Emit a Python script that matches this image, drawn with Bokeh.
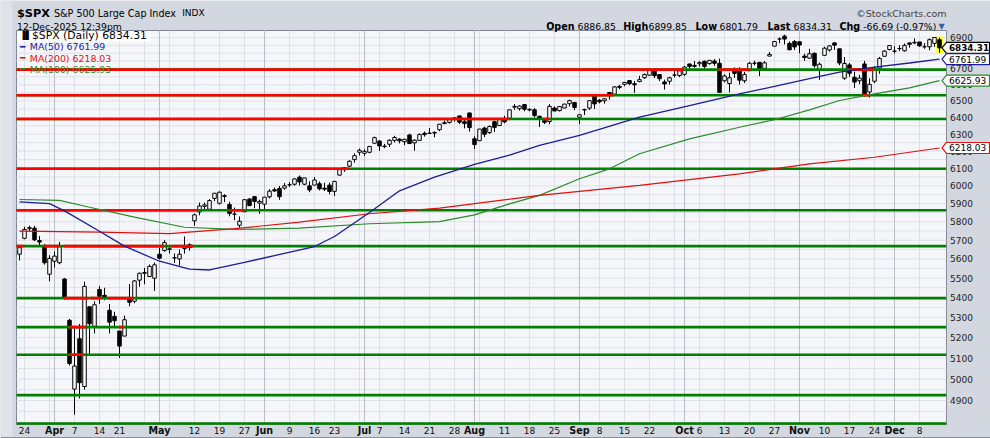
import math
import pandas as pd
from bokeh.plotting import figure
from bokeh.models import Range1d, Label
from bokeh.core.properties import value
from bokeh.embed import file_html
from bokeh.resources import INLINE

# ---------------- data ----------------
holidays = ["2025-04-18", "2025-05-26", "2025-06-19", "2025-07-04", "2025-09-01", "2025-11-27"]
dates = [d for d in pd.bdate_range("2025-03-21", "2025-12-12") if d.strftime("%Y-%m-%d") not in holidays]

opens = [5625, 5710, 5762, 5765, 5698, 5668, 5520, 5588, 5580, 5495,
         5285, 4953, 5194, 4965, 5353, 5255, 5441, 5411, 5335, 5305,
         5232, 5207, 5395, 5381, 5489, 5525, 5508, 5499, 5625, 5645,
         5654, 5605, 5600, 5655, 5676, 5805, 5854, 5885, 5869, 5929,
         5902, 5944, 5895, 5841, 5781, 5855, 5926, 5939, 5903, 5897,
         5938, 5978, 5985, 5987, 6005, 6009, 6049, 6009, 6000, 6004,
         6012, 5987, 6004, 5969, 6061, 6104, 6112, 6150, 6193, 6187,
         6193, 6246, 6259, 6229, 6240, 6263, 6270, 6255, 6295, 6248,
         6263, 6305, 6304, 6306, 6326, 6368, 6370, 6397, 6409, 6374,
         6427, 6272, 6261, 6336, 6309, 6374, 6351, 6389, 6395, 6462,
         6453, 6478, 6445, 6446, 6407, 6383, 6375, 6457, 6441, 6457,
         6483, 6491, 6401, 6445, 6456, 6530, 6505, 6501, 6552, 6542,
         6590, 6603, 6626, 6607, 6620, 6644, 6660, 6695, 6664, 6618,
         6622, 6661, 6658, 6665, 6731, 6722, 6732, 6748, 6733, 6750,
         6735, 6625, 6608, 6690, 6689, 6625, 6688, 6736, 6741, 6703,
         6781, 6845, 6891, 6910, 6863, 6875, 6873, 6781, 6768, 6799,
         6696, 6786, 6820, 6866, 6828, 6641, 6725, 6647, 6625, 6731,
         6555, 6622, 6705, 6780, 6823, 6812, 6830, 6815, 6866, 6866,
         6872, 6841, 6841, 6863, 6887]
highs = [5665, 5772, 5778, 5778, 5722, 5680, 5620, 5640, 5690, 5500,
         5292, 5246, 5267, 5481, 5353, 5381, 5459, 5450, 5367, 5328,
         5232, 5309, 5469, 5489, 5528, 5553, 5571, 5581, 5658, 5700,
         5669, 5629, 5650, 5720, 5683, 5845, 5906, 5906, 5925, 5958,
         5968, 5953, 5910, 5878, 5829, 5924, 5930, 5943, 5922, 5937,
         5981, 5990, 5999, 6016, 6021, 6043, 6059, 6045, 6026, 6050,
         6024, 6018, 6018, 6028, 6101, 6108, 6146, 6187, 6215, 6211,
         6228, 6285, 6263, 6242, 6269, 6290, 6275, 6272, 6302, 6269,
         6304, 6315, 6336, 6316, 6360, 6381, 6390, 6401, 6409, 6390,
         6428, 6287, 6330, 6344, 6352, 6379, 6395, 6410, 6446, 6481,
         6474, 6482, 6455, 6456, 6409, 6393, 6481, 6466, 6468, 6482,
         6508, 6491, 6416, 6453, 6502, 6533, 6512, 6515, 6555, 6592,
         6600, 6616, 6627, 6624, 6656, 6671, 6694, 6697, 6666, 6632,
         6650, 6686, 6689, 6718, 6731, 6750, 6749, 6752, 6755, 6762,
         6765, 6666, 6676, 6709, 6710, 6681, 6745, 6752, 6744, 6749,
         6807, 6876, 6902, 6920, 6875, 6885, 6877, 6796, 6828, 6804,
         6740, 6841, 6851, 6869, 6828, 6775, 6737, 6683, 6662, 6751,
         6641, 6715, 6776, 6819, 6850, 6844, 6851, 6862, 6867, 6895,
         6872, 6864, 6895, 6904, 6900]
lows = [5592, 5705, 5750, 5695, 5670, 5570, 5483, 5555, 5572, 5390,
        5065, 4835, 4910, 4950, 5115, 5220, 5368, 5386, 5220, 5255,
        5101, 5207, 5356, 5371, 5455, 5468, 5505, 5434, 5597, 5638,
        5629, 5579, 5565, 5628, 5644, 5778, 5836, 5868, 5867, 5914,
        5895, 5909, 5830, 5809, 5767, 5855, 5886, 5874, 5843, 5861,
        5929, 5966, 5921, 5978, 5994, 6001, 6002, 6003, 5964, 6004,
        5974, 5971, 5952, 5943, 6058, 6080, 6107, 6132, 6174, 6172,
        6187, 6243, 6201, 6217, 6224, 6251, 6245, 6234, 6242, 6202,
        6263, 6285, 6303, 6281, 6317, 6360, 6362, 6375, 6360, 6334,
        6315, 6212, 6261, 6283, 6301, 6313, 6351, 6364, 6385, 6446,
        6441, 6437, 6437, 6400, 6343, 6360, 6359, 6438, 6436, 6456,
        6466, 6444, 6360, 6415, 6445, 6451, 6485, 6483, 6508, 6532,
        6572, 6591, 6597, 6551, 6617, 6637, 6657, 6642, 6623, 6570,
        6602, 6646, 6648, 6656, 6697, 6707, 6714, 6698, 6727, 6718,
        6550, 6615, 6553, 6643, 6601, 6611, 6688, 6722, 6654, 6700,
        6780, 6845, 6863, 6856, 6818, 6820, 6799, 6751, 6764, 6708,
        6631, 6786, 6810, 6821, 6723, 6631, 6650, 6580, 6604, 6525,
        6521, 6610, 6669, 6776, 6818, 6799, 6813, 6810, 6836, 6858,
        6841, 6828, 6819, 6841, 6802]
closes = [5660, 5758, 5768, 5702, 5690, 5580, 5603, 5615, 5665, 5396,
          5074, 5062, 4983, 5457, 5268, 5363, 5406, 5397, 5276, 5283,
          5158, 5288, 5376, 5485, 5525, 5529, 5561, 5569, 5604, 5687,
          5650, 5607, 5625, 5664, 5660, 5838, 5887, 5893, 5917, 5958,
          5964, 5940, 5845, 5842, 5803, 5922, 5889, 5912, 5912, 5936,
          5970, 5971, 5939, 6000, 6006, 6039, 6022, 6045, 5977, 6033,
          5983, 5981, 5968, 6025, 6092, 6092, 6141, 6173, 6205, 6198,
          6227, 6279, 6230, 6226, 6263, 6280, 6260, 6269, 6244, 6264,
          6297, 6297, 6306, 6310, 6359, 6363, 6389, 6390, 6371, 6363,
          6339, 6238, 6330, 6299, 6345, 6340, 6389, 6373, 6446, 6467,
          6469, 6450, 6449, 6411, 6396, 6370, 6467, 6439, 6466, 6481,
          6502, 6460, 6416, 6448, 6502, 6482, 6495, 6513, 6532, 6587,
          6584, 6615, 6607, 6600, 6632, 6664, 6694, 6657, 6638, 6605,
          6644, 6661, 6688, 6711, 6715, 6716, 6740, 6715, 6754, 6735,
          6553, 6655, 6644, 6671, 6629, 6664, 6735, 6735, 6699, 6738,
          6792, 6875, 6891, 6891, 6822, 6840, 6852, 6772, 6796, 6720,
          6729, 6832, 6847, 6851, 6737, 6734, 6672, 6617, 6642, 6539,
          6603, 6705, 6766, 6813, 6849, 6813, 6829, 6850, 6857, 6870,
          6847, 6841, 6887, 6901, 6834]

# moving averages (sample dates / values)
ma50_dates = ["2025-03-21", "2025-03-31", "2025-04-03", "2025-04-14", "2025-04-22", "2025-05-01",
              "2025-05-09", "2025-05-15", "2025-05-27", "2025-06-16", "2025-06-23", "2025-07-02",
              "2025-07-11", "2025-07-22", "2025-08-01", "2025-08-12", "2025-08-20", "2025-09-02",
              "2025-09-18", "2025-10-02", "2025-10-16", "2025-10-27", "2025-11-05", "2025-11-13",
              "2025-11-24", "2025-12-04", "2025-12-12"]
ma50_vals = [5910, 5900, 5860, 5748, 5668, 5588, 5546, 5542, 5582, 5666, 5720, 5851,
             5972, 6050, 6122, 6176, 6233, 6292, 6401, 6472, 6544, 6590, 6638, 6679,
             6711, 6737, 6761.99]
ma100_dates = ["2025-03-21", "2025-04-02", "2025-04-10", "2025-04-24", "2025-05-08", "2025-05-22",
               "2025-06-11", "2025-07-02", "2025-07-23", "2025-08-01", "2025-08-12", "2025-08-20",
               "2025-09-02", "2025-09-10", "2025-09-18", "2025-10-02", "2025-10-16", "2025-10-27",
               "2025-11-05", "2025-11-13", "2025-11-24", "2025-12-04", "2025-12-12"]
ma100_vals = [5923, 5918, 5880, 5825, 5770, 5758, 5765, 5789, 5801, 5838, 5899, 5946,
              6040, 6097, 6184, 6272, 6341, 6386, 6446, 6503, 6544, 6581, 6625.93]
ma200_dates = ["2025-03-21", "2025-04-14", "2025-05-05", "2025-05-22", "2025-06-11", "2025-07-02",
               "2025-07-23", "2025-08-20", "2025-09-18", "2025-10-16", "2025-11-05", "2025-11-24",
               "2025-12-12"]
ma200_vals = [5749, 5743, 5735, 5762, 5798, 5844, 5875, 5946, 6002, 6068, 6126, 6164, 6218.03]

# horizontal support / resistance levels and the spans (trading-day index) drawn red
levels = [6695, 6535, 6390, 6097, 5863, 5668, 5397, 5251, 5116, 4925]
red_spans = [
    (6695, -0.6, 132.8), (6695, 139.8, 146.0), (6695, 165.8, 170.8),
    (6535, -0.6, 118.9), (6535, 168.6, 170.2),
    (6390, -0.6, 98.1), (6390, 104.7, 106.0),
    (6097, -0.6, 65.9),
    (5863, -0.6, 35.6), (5863, 42.0, 44.8),
    (5668, -0.6, 0.8), (5668, 4.9, 7.9), (5668, 8.9, 28.9), (5668, 30.2, 34.9),
    (5397, 8.9, 13.8), (5397, 14.2, 16.4), (5397, 17.6, 22.8),
    (5251, 9.9, 13.2), (5251, 19.9, 20.9),
    (5116, 9.9, 12.9),
]

# x-axis tick labels
xlab_dates = ["2025-03-24", "2025-04-01", "2025-04-07", "2025-04-14", "2025-04-21", "2025-05-01",
              "2025-05-12", "2025-05-19", "2025-05-27", "2025-06-02", "2025-06-09", "2025-06-16",
              "2025-06-23", "2025-07-01", "2025-07-07", "2025-07-14", "2025-07-21", "2025-07-28",
              "2025-08-01", "2025-08-11", "2025-08-18", "2025-08-25", "2025-09-02", "2025-09-08",
              "2025-09-15", "2025-09-22", "2025-10-01", "2025-10-06", "2025-10-13", "2025-10-20",
              "2025-10-27", "2025-11-03", "2025-11-10", "2025-11-17", "2025-11-24", "2025-12-01",
              "2025-12-08"]
xlab_text = ["24", "Apr", "7", "14", "21", "May", "12", "19", "27", "Jun", "9", "16", "23",
             "Jul", "7", "14", "21", "28", "Aug", "11", "18", "25", "Sep", "8", "15", "22",
             "Oct", "6", "13", "20", "27", "Nov", "10", "17", "24", "Dec", "8"]
ytick_vals = list(range(4900, 7000, 100))

last_vals = {"open": 6886.85, "high": 6899.85, "low": 6801.79, "last": 6834.31,
             "chg": -66.69, "pct": -0.97}
ma_last = {"MA(50)": 6761.99, "MA(200)": 6218.03, "MA(100)": 6625.93}

# ---------------- geometry (pixel <-> data helpers) ----------------
W, H = 990, 438
PL, PR, PT, PB = 16, 946, 30, 424          # plot panel in pixels
X0, X1 = -0.6, 185.4                        # trading-day index at panel edges
Y0, Y1 = 4790.3, 6946.8                     # price at panel bottom / top (log scale)
LY0, LY1 = math.log(Y0), math.log(Y1)


def X(px):
    return X0 + (px - PL) * (X1 - X0) / (PR - PL)


def Y(py):
    return math.exp(LY0 + (PB - py) * (LY1 - LY0) / (PB - PT))


def PY(v):
    return PB - (math.log(v) - LY0) / (LY1 - LY0) * (PB - PT)


pos = {d.strftime("%Y-%m-%d"): i for i, d in enumerate(dates)}
n = len(dates)

C_NAVY, C_RED, C_GREEN = "#1c1c96", "#e01010", "#2a8a2a"
FONT = "DejaVu Sans"

p = figure(width=W, height=H, x_range=Range1d(X(0), X(W)), y_range=Range1d(Y(H), Y(0)),
           y_axis_type="log", x_axis_location=None, y_axis_location=None,
           output_backend="svg", toolbar_location=None, title=None,
           min_border=0, background_fill_color="#d3d7e0", border_fill_color="#d3d7e0")
p.outline_line_color = None
for g in list(p.xgrid) + list(p.ygrid):
    g.visible = False

# outer bottom edge and left shade
p.quad(left=[X(0)], right=[X(W)], top=[Y(436.5)], bottom=[Y(H)], fill_color="#8c919c", line_color=None)
p.quad(left=[X(0)], right=[X(12)], top=[Y(0)], bottom=[Y(436.5)], fill_color="#dfe2e9", line_color=None)

# plot panel
p.quad(left=[X0], right=[X1], top=[Y1], bottom=[Y0], fill_color="#f5f6fa",
       line_color="#7f8593", line_width=1)

# gridlines
hg = [v for v in range(4800, 6950, 50)]
p.segment(x0=[X0] * len(hg), x1=[X1] * len(hg), y0=hg, y1=hg, line_color="#dfe1e7", line_width=1)
week_x, month_x = [], []
for i in range(1, n):
    if dates[i].isocalendar()[1] != dates[i - 1].isocalendar()[1]:
        week_x.append(i)
    if dates[i].month != dates[i - 1].month:
        month_x.append(i)
p.segment(x0=week_x, x1=week_x, y0=[Y0] * len(week_x), y1=[Y1] * len(week_x),
          line_color="#dcdfe6", line_width=1)
p.segment(x0=month_x, x1=month_x, y0=[Y0] * len(month_x), y1=[Y1] * len(month_x),
          line_color="#b9bdc7", line_width=1)

# last-bar highlight
li = n - 1
p.quad(left=[li - 0.75], right=[li + 0.75], top=[highs[li] + 8], bottom=[lows[li] - 8],
       fill_color="#ffff3c", line_color=None)

# candles
idx = list(range(n))
p.segment(x0=idx, x1=idx, y0=highs, y1=lows, line_color="black", line_width=1)
up = [i for i in idx if closes[i] >= opens[i]]
dn = [i for i in idx if closes[i] < opens[i]]
p.vbar(x=up, width=0.7, top=[closes[i] for i in up], bottom=[opens[i] for i in up],
       fill_color="white", line_color="black", line_width=1)
p.vbar(x=dn, width=0.7, top=[opens[i] for i in dn], bottom=[closes[i] for i in dn],
       fill_color="black", line_color="black", line_width=1)

# horizontal levels
p.segment(x0=[X0] * len(levels), x1=[X1] * len(levels), y0=levels, y1=levels,
          line_color="#008000", line_width=2.6)
p.segment(x0=[s[1] for s in red_spans], x1=[s[2] for s in red_spans],
          y0=[s[0] for s in red_spans], y1=[s[0] for s in red_spans],
          line_color="#ff0000", line_width=2.6)

# moving averages
p.line([pos[d] for d in ma100_dates], ma100_vals, line_color=C_GREEN, line_width=1.2)
p.line([pos[d] for d in ma200_dates], ma200_vals, line_color=C_RED, line_width=1.2)
p.line([pos[d] for d in ma50_dates], ma50_vals, line_color=C_NAVY, line_width=1.3)

# bottom axis line (green)
p.segment(x0=[X0], x1=[X1], y0=[Y(423)], y1=[Y(423)], line_color="#008000", line_width=2.5)
# dotted right border
p.segment(x0=[X1], x1=[X1], y0=[Y0], y1=[Y1], line_color="#8a8f99", line_width=1, line_dash="1 1")

# legend background
p.quad(left=[X(16.5)], right=[X(150)], top=[Y(30.5)], bottom=[Y(41)], fill_color="white", line_color=None)

# right axis tick labels (glyphs so markers can cover them)
p.text(x=[X(949.5)] * len(ytick_vals), y=ytick_vals, text=[str(v) for v in ytick_vals],
       text_font=value(FONT), text_font_size="9px", text_color="#222222",
       text_align="left", text_baseline="middle")

# right value markers (arrow boxes)
markers = [(last_vals["last"], "#000000", True), (ma_last["MA(50)"], C_NAVY, False),
           (ma_last["MA(100)"], C_GREEN, False), (ma_last["MA(200)"], C_RED, False)]
mxs, mys, mcol = [], [], []
for v, c, b in markers:
    cy = PY(v)
    mxs.append([X(941.5), X(946), X(989), X(989), X(946)])
    mys.append([Y(cy), Y(cy - 5.5), Y(cy - 5.5), Y(cy + 5.5), Y(cy + 5.5)])
    mcol.append(c)
p.patches(xs=mxs, ys=mys, fill_color="white", line_color=mcol, line_width=1.2)
for v, c, b in markers:
    p.text(x=[X(948.5)], y=[v], text=[f"{v:.2f}"], text_font=value(FONT),
           text_font_size="8.8px" if b else "9px", text_font_style="bold" if b else "normal",
           text_color="#000000", text_align="left", text_baseline="middle")


def txt(text, px, py, size, color="#000000", bold=False, align="left", baseline="middle",
        font=FONT, data_x=None, data_y=None, **kw):
    p.add_layout(Label(x=(data_x if data_x is not None else X(px)),
                       y=(data_y if data_y is not None else Y(py)), text=text,
                       text_font=font, text_font_size=f"{size}px", text_color=color,
                       text_font_style="bold" if bold else "normal",
                       text_align=align, text_baseline=baseline, **kw))


# legend
txt(f"$SPX (Daily) {last_vals['last']:.2f}", 31.5, 35.2, 10.8)
txt("▐▌", 19, 35.2, 8)
leg_y = [46.2, 57.5, 68.5]
for (name, val), c, yy in zip(ma_last.items(), [C_NAVY, C_RED, C_GREEN], leg_y):
    txt("━", 19.5, yy, 9, color=c)
    txt(f"{name} {val:.2f}", 29.3, yy, 9.4, color=c)

# header
txt("$SPX", 16.5, 12.8, 11.3, bold=True, baseline="alphabetic")
txt("S&P 500 Large Cap Index", 53.5, 12.8, 9.6, baseline="alphabetic")
txt("INDX", 181.7, 12.8, 9.0, baseline="alphabetic")
txt("12-Dec-2025 12:39pm", 16.5, 26, 9.3, baseline="alphabetic")
txt("©StockCharts.com", 946, 12.8, 9.5, color="#444444", align="right", baseline="alphabetic")
hdr = [("Open", 545.7, True), (f"{last_vals['open']:.2f}", 577, False),
       ("High", 622.7, True), (f"{last_vals['high']:.2f}", 648, False),
       ("Low", 695, True), (f"{last_vals['low']:.2f}", 719, False),
       ("Last", 767, True), (f"{last_vals['last']:.2f}", 793, False),
       ("Chg", 839, True), (f"{last_vals['chg']:.2f} ({last_vals['pct']:.2f}%)", 862.7, False)]
for t, px, b in hdr:
    txt(t, px, 26, 9.6 if b else 9.3, bold=b, baseline="alphabetic")
txt("▼", 938, 25.5, 8, color="#3a5fa8", baseline="alphabetic")

# x-axis labels
for d, t in zip(xlab_dates, xlab_text):
    is_month = t.isalpha()
    txt(t, None, 430, 9.6 if is_month else 9, color="#111111", bold=is_month,
        align="center", data_x=pos[d])

open("out.html", "w").write(file_html(p, INLINE))
